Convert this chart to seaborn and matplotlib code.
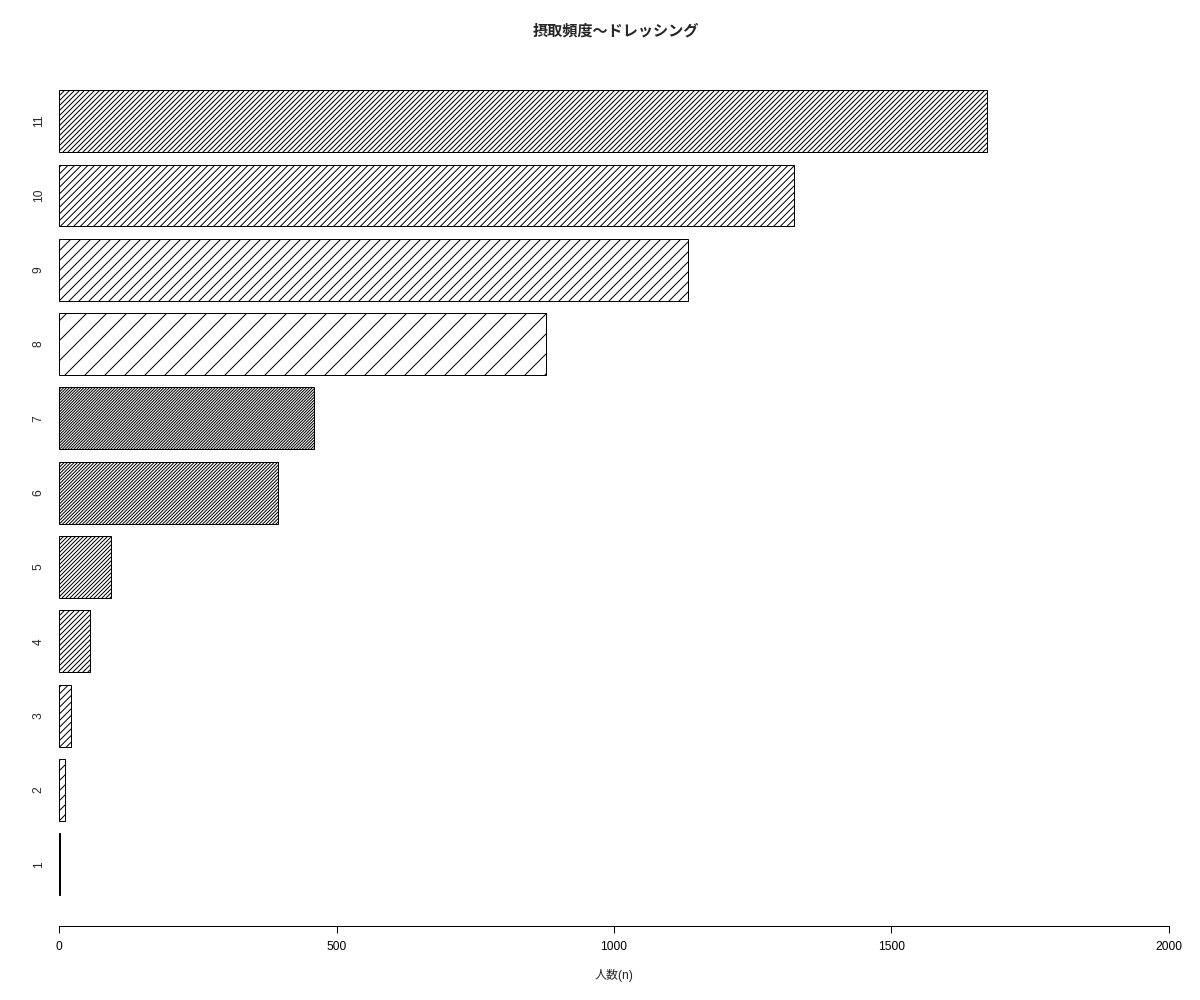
import matplotlib
matplotlib.use("Agg")
from matplotlib import pyplot as plt
import seaborn as sns

# data
categories = ["1", "2", "3", "4", "5", "6", "7", "8", "9", "10", "11"]
counts = [2, 10, 21, 56, 94, 394, 459, 877, 1134, 1325, 1672]
# hatch density step per bar (R density 5, 10, ..., 35 recycled)
density_steps = [1, 2, 3, 4, 5, 6, 7, 1, 2, 3, 4]

title = "摂取頻度〜ドレッシング"
xlabel = "人数(n)"
xticks = [0, 500, 1000, 1500, 2000]

sns.set_style("white")
plt.rcParams["font.family"] = ["Liberation Sans", "Noto Sans CJK JP", "DejaVu Sans"]
plt.rcParams["hatch.linewidth"] = 0.6

fig = plt.figure(figsize=(10, 25 / 3), dpi=120)
ax = fig.add_axes([58 / 1200, 74 / 1000, (1171 - 58) / 1200, (926 - 58) / 1000])

order = categories[::-1]  # largest category at the top
sns.barplot(
    x=counts,
    y=categories,
    order=order,
    orient="h",
    color="white",
    edgecolor="black",
    linewidth=0.6,
    width=1 / 1.2,
    ax=ax,
)

# two slashes per density step gives ~20px / step spacing at 120 dpi
steps_by_cat = dict(zip(categories, density_steps))
for patch, cat in zip(ax.patches, order):
    patch.set_facecolor("white")
    patch.set_edgecolor("black")
    patch.set_hatch("/" * (2 * steps_by_cat[cat]))

ax.set_xlim(-2, 2004)
ax.set_ylim(10.83, -0.85)

for side in ("top", "right", "left"):
    ax.spines[side].set_visible(False)
ax.spines["bottom"].set_bounds(0, 2000)
ax.spines["bottom"].set_linewidth(0.6)
ax.spines["bottom"].set_color("black")

ax.set_xticks(xticks)
ax.set_xticklabels([str(t) for t in xticks], fontsize=7.2)
ax.tick_params(axis="x", direction="out", length=4.2, width=0.6, pad=4.5,
               bottom=True, colors="black")
ax.tick_params(axis="y", length=0, pad=8)
for lab in ax.get_yticklabels():
    lab.set_rotation(90)
    lab.set_fontsize(7.2)
    lab.set_va("center")

ax.set_xlabel(xlabel, fontsize=7.2, labelpad=10)
ax.set_ylabel("")
fig.text(0.513, 0.969, title, ha="center", va="center", fontsize=9.1,
         fontweight="bold")

fig.savefig("out.png", dpi=120)
